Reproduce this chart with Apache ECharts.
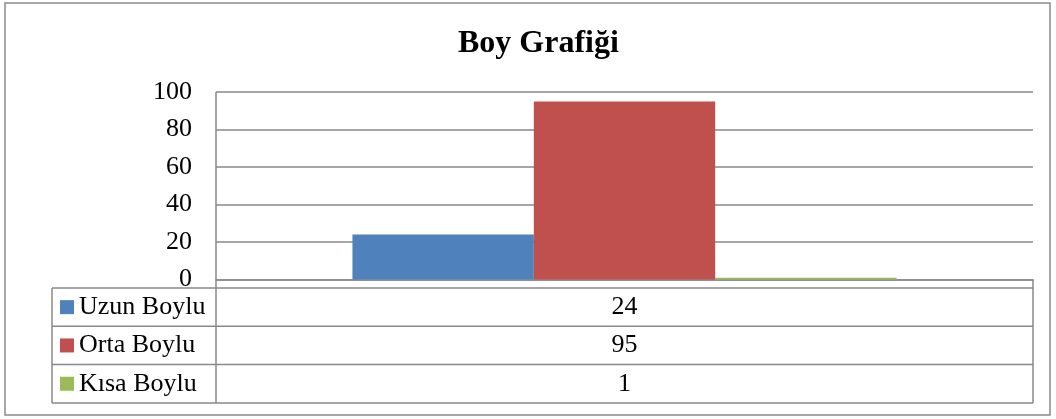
<!DOCTYPE html>
<html>
<head>
<meta charset="utf-8">
<script src="https://cdn.jsdelivr.net/npm/echarts@6/dist/echarts.min.js"></script>
<style>
    html, body { margin: 0; padding: 0; background: #fff; }
    #boyChart { width: 1056px; height: 419px; }
</style>
</head>
<body>
<div id="boyChart"></div>
<script>
    // veri
    const seriesNames = ['Uzun Boylu', 'Orta Boylu', 'Kısa Boylu'];
    const seriesValues = [24, 95, 1];
    const seriesColors = ['#4F81BD', '#C0504D', '#9BBB59'];
    const yTicks = [0, 20, 40, 60, 80, 100];

    const W = 1056, H = 419;
    const plotLeft = 216, plotRight = 1033, plotTop = 92, plotBottom = 279.5;
    const tableLeft = 52, tableTop = 288, rowH = 38.3;
    const lineColor = '#898989';
    const font = '"Liberation Serif", "Times New Roman", serif';

    let chart = echarts.init(document.getElementById('boyChart'));

    // veri tablosu (grafik altı)
    let graphics = [];
    graphics.push({
        type: 'rect',
        shape: {x: 5, y: 3, width: 1045, height: 412},
        style: {fill: 'none', stroke: '#8a8a8a', lineWidth: 1.5},
        silent: true
    });
    let tableBottom = tableTop + rowH * seriesNames.length;
    let lines = [
        [plotLeft, plotTop, plotLeft, tableBottom],          // sol dikey
        [plotRight, plotBottom, plotRight, tableBottom],     // sağ dikey
        [tableLeft, tableTop, tableLeft, tableBottom],
        [tableLeft, tableTop, plotRight, tableTop]
    ];
    seriesNames.forEach((name, i) => {
        let y = tableTop + rowH * (i + 1);
        lines.push([tableLeft, y, plotRight, y]);
    });
    lines.forEach(l => {
        graphics.push({
            type: 'line',
            shape: {x1: l[0], y1: l[1], x2: l[2], y2: l[3]},
            style: {stroke: lineColor, lineWidth: 1.5},
            silent: true
        });
    });
    seriesNames.forEach((name, i) => {
        let cy = tableTop + rowH * i + rowH / 2;
        graphics.push({
            type: 'rect',
            shape: {x: 60, y: cy - 7, width: 14, height: 14},
            style: {fill: seriesColors[i]},
            silent: true
        });
        graphics.push({
            type: 'text',
            x: 79, y: cy,
            style: {text: name, font: '26px ' + font, fill: '#000', textVerticalAlign: 'middle'},
            silent: true
        });
        graphics.push({
            type: 'text',
            x: (plotLeft + plotRight) / 2, y: cy,
            style: {text: String(seriesValues[i]), font: '26px ' + font, fill: '#000',
                textAlign: 'center', textVerticalAlign: 'middle'},
            silent: true
        });
    });

    let option = {
        animation: false,
        title: {
            text: 'Boy Grafiği',
            left: 453,
            top: 23,
            textStyle: {fontFamily: font, fontSize: 32, fontWeight: 'bold', color: '#000'}
        },
        grid: {
            left: plotLeft,
            right: W - plotRight,
            top: plotTop,
            bottom: H - plotBottom
        },
        xAxis: {
            type: 'category',
            data: [''],
            axisTick: {show: false},
            axisLabel: {show: false},
            axisLine: {lineStyle: {color: lineColor, width: 1.5}}
        },
        yAxis: {
            type: 'value',
            min: yTicks[0],
            max: yTicks[yTicks.length - 1],
            interval: yTicks[1] - yTicks[0],
            axisLine: {show: false},
            axisTick: {show: false},
            axisLabel: {color: '#000', fontFamily: font, fontSize: 26, margin: 24},
            splitLine: {lineStyle: {color: lineColor, width: 1.5}}
        },
        series: seriesNames.map((name, i) => ({
            name: name,
            type: 'bar',
            data: [seriesValues[i]],
            barGap: '0%',
            barCategoryGap: '33.4%',
            itemStyle: {color: seriesColors[i]}
        })),
        graphic: graphics
    };
    chart.setOption(option);
</script>
</body>
</html>
